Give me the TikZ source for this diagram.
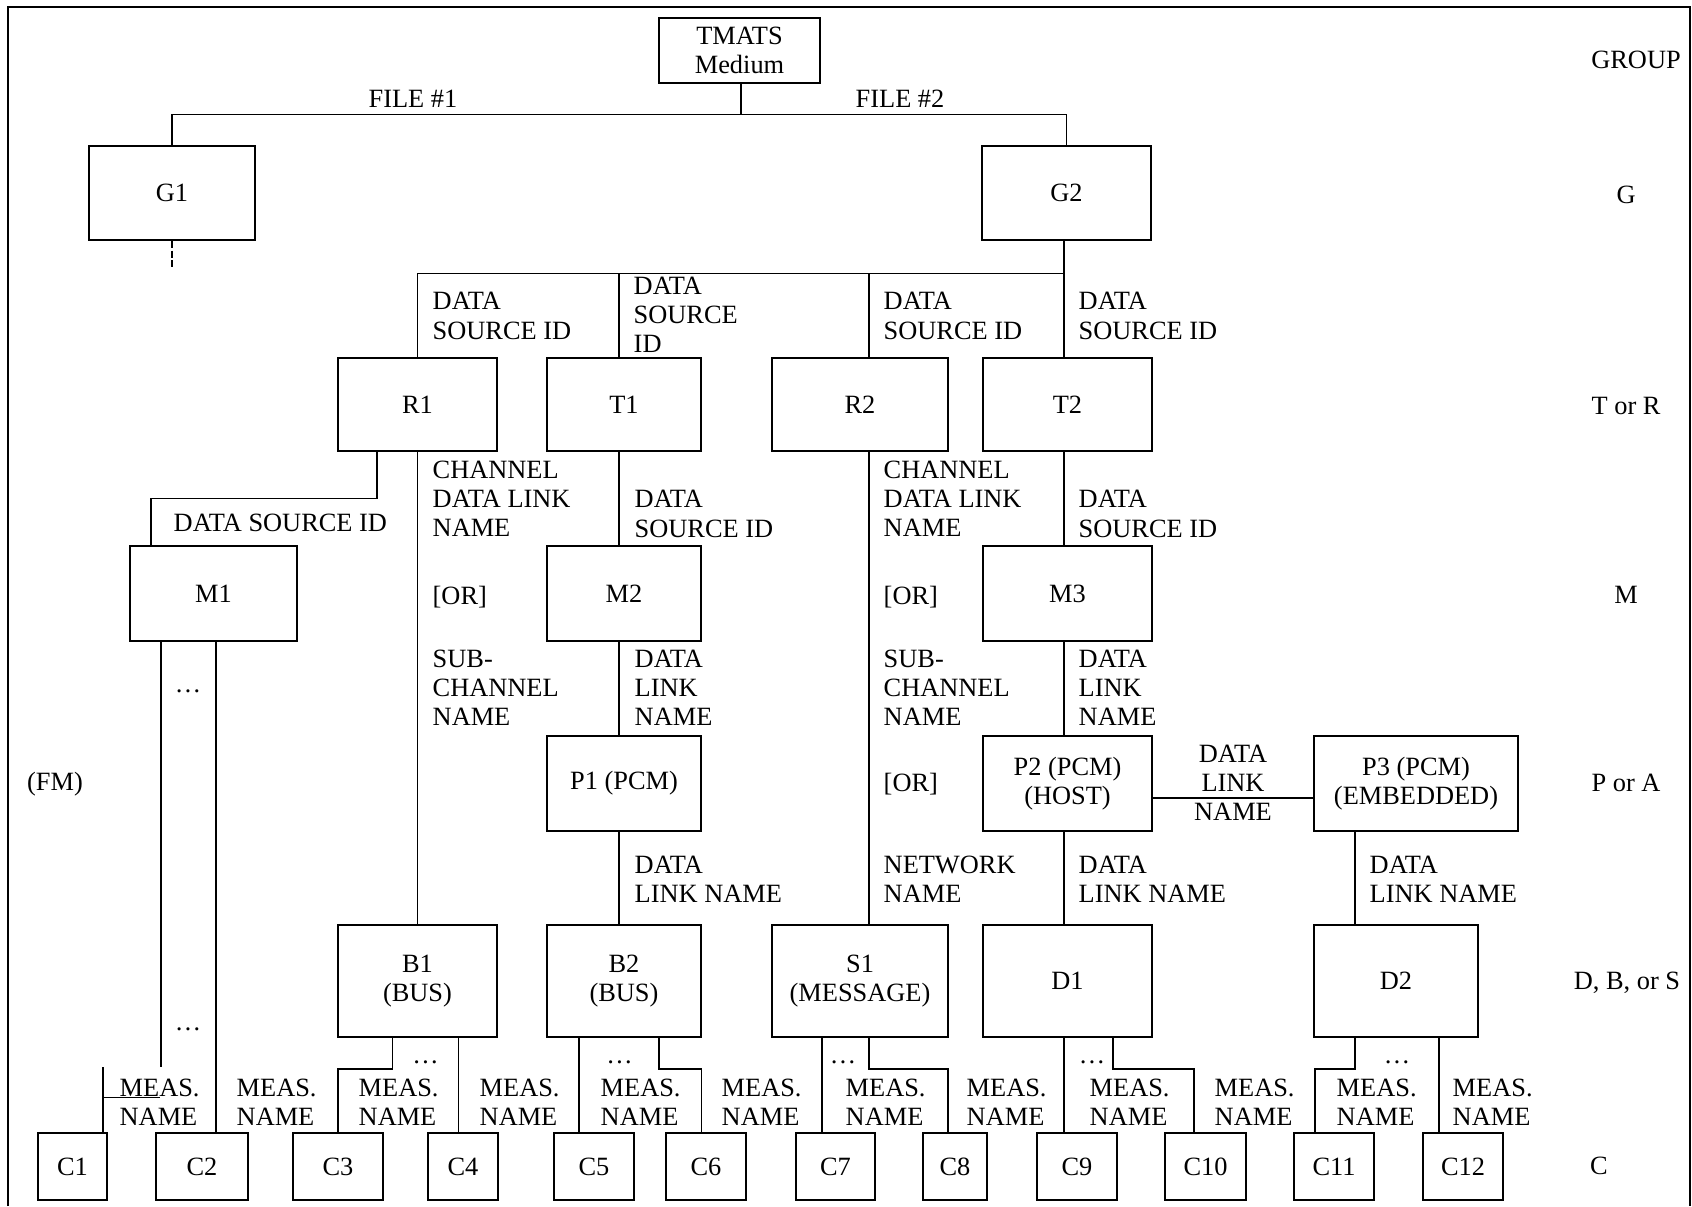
\documentclass[tikz,border=0pt]{standalone}
\usepackage{fontspec}
\setmainfont{Liberation Serif}
\usetikzlibrary{calc, positioning}

\tikzset{
    bx/.style 2 args={draw, inner sep=0pt, align=center, minimum width=#1, minimum height=#2},
    lbl/.style={anchor=west, align=left, inner sep=0pt},
    lvl/.style={inner sep=0pt},
    dotsn/.style={anchor=base, inner sep=0pt},
}

\begin{document}
\begin{tikzpicture}[x=0.01cm, y=-0.01cm,
        every node/.style={font=\fontsize{7.5}{8.3}\selectfont}]
        \useasboundingbox (0,0) rectangle (1692,1206);
        % 枠の描画
        \draw (8,1206) -- (8,7) -- (1690,7) -- (1690,1206);
        \draw[line width=0.7pt] (8,7) -- (1690,7);

        % 箱の描画
        \node[bx={1.61cm}{0.65cm}] (tmats) at (739.5,50.5) {TMATS\\Medium};
        \node[bx={1.66cm}{0.94cm}] (G1) at (172,193) {G1};
        \node[bx={1.69cm}{0.94cm}] (G2) at (1066.5,193) {G2};

        \node[bx={1.59cm}{0.93cm}] (R1) at (417.5,404.5) {R1};
        \node[bx={1.54cm}{0.93cm}] (T1) at (624,404.5) {T1};
        \node[bx={1.76cm}{0.93cm}] (R2) at (860,404.5) {R2};
        \node[bx={1.69cm}{0.93cm}] (T2) at (1067.5,404.5) {T2};

        \node[bx={1.67cm}{0.95cm}] (M1) at (213.5,593.5) {M1};
        \node[bx={1.54cm}{0.95cm}] (M2) at (624,593.5) {M2};
        \node[bx={1.69cm}{0.95cm}] (M3) at (1067.5,593.5) {M3};

        \node[bx={1.54cm}{0.95cm}] (P1) at (624,783.5) {P1 (PCM)};
        \node[bx={1.69cm}{0.95cm}] (P2) at (1067.5,783.5) {P2 (PCM)\\(HOST)};
        \node[bx={2.04cm}{0.95cm}] (P3) at (1416,783.5) {P3 (PCM)\\(EMBEDDED)};

        \node[bx={1.59cm}{1.12cm}] (B1) at (417.5,981) {B1\\(BUS)};
        \node[bx={1.54cm}{1.12cm}] (B2) at (624,981) {B2\\(BUS)};
        \node[bx={1.76cm}{1.12cm}] (S1) at (860,981) {S1\\(MESSAGE)};
        \node[bx={1.69cm}{1.12cm}] (D1) at (1067.5,981) {D1};
        \node[bx={1.64cm}{1.12cm}] (D2) at (1396,981) {D2};

        \foreach \n/\cx/\w in {1/72.5/0.69, 2/202/0.92, 3/338/0.90, 4/463/0.70, 5/594/0.80, 6/706/0.80, 7/835.5/0.79, 8/955/0.64, 9/1077/0.80, 10/1205.5/0.81, 11/1334/0.80, 12/1463/0.80} {
            \node[bx={\w cm}{0.67cm}] (C\n) at (\cx,1166.5) {C\n};
        }

        % 右側の段名
        \node[lvl] (lGroup) at (1636,60) {GROUP};
        \node[lvl] (lG) at (1626,195) {G};
        \node[lvl] (lTR) at (1626,406) {T or R};
        \node[lvl] (lM) at (1626,595) {M};
        \node[lvl] (lPA) at (1626,783) {P or A};
        \node[lvl] (lDBS) at (1627,983) {D, B, or S};
        \node[lvl] (lC) at (1599,1166) {C};
        \node[lvl] (lFM) at (55,784) {(FM)};

        % 線のラベル
        \node[lvl] (file1) at (413,99) {FILE \#1};
        \node[lvl] (file2) at (900,99) {FILE \#2};
        \node[lbl] (dsR1) at (432,316) {DATA\\SOURCE ID};
        \node[lbl] (dsT1) at (633,315) {DATA\\SOURCE\\ID};
        \node[lbl] (dsR2) at (883,316) {DATA\\SOURCE ID};
        \node[lbl] (dsT2) at (1078,316) {DATA\\SOURCE ID};
        \node[lbl] (dsM1) at (173,523) {DATA SOURCE ID};
        \node[lbl] (chR1) at (432,499) {CHANNEL\\DATA LINK\\NAME};
        \node[lbl] (orR1) at (432,597) {[OR]};
        \node[lbl] (subR1) at (432,688) {SUB-\\CHANNEL\\NAME};
        \node[lbl] (dsM2) at (634,514) {DATA\\SOURCE ID};
        \node[lbl] (dlP1) at (634,688) {DATA\\LINK\\NAME};
        \node[lbl] (dlB2) at (634,879) {DATA\\LINK NAME};
        \node[lbl] (chR2) at (883,499) {CHANNEL\\DATA LINK\\NAME};
        \node[lbl] (orR2) at (883,597) {[OR]};
        \node[lbl] (subR2) at (883,688) {SUB-\\CHANNEL\\NAME};
        \node[lbl] (orR2b) at (883,784) {[OR]};
        \node[lbl] (netS1) at (883,879) {NETWORK\\NAME};
        \node[lbl] (dsM3) at (1078,514) {DATA\\SOURCE ID};
        \node[lbl] (dlP2) at (1078,688) {DATA\\LINK\\NAME};
        \node[lbl] (dlD1) at (1078,879) {DATA\\LINK NAME};
        \node[lbl] (dlD2) at (1369,879) {DATA\\LINK NAME};
        \node[lvl, align=center] (dlP3) at (1233,783) {DATA\\LINK\\NAME};
        \foreach \mx [count=\i] in {119,236,358,479,600,721,845,966,1089,1214,1336,1452} {
            \node[lbl] (meas\i) at (\mx,1102) {MEAS.\\NAME};
        }
        \foreach \dx/\dy [count=\i] in {188/692, 188/1030, 425.5/1063, 619.5/1063, 843/1063, 1092/1063, 1397/1063} {
            \node[dotsn] (dots\i) at (\dx,\dy) {…};
        }

        % 線の描画
        \coordinate (fb) at ($(tmats.south)+(1.5,31)$);
        \draw (tmats.south -| fb) -- (fb);
        \draw (G1.north) |- (fb) -| (G2.north);
        \coordinate (G1more) at ($(G1.south)+(0,28)$);
        \draw[dash pattern=on 2pt off 0.8pt] (G1.south) -- (G1more);

        \coordinate (kT2) at ($(G2.south)+(-2.5,0)$);
        \coordinate (dsb) at ($(kT2)+(0,33)$);
        \coordinate (kT1) at ($(T1.north)+(-5,0)$);
        \coordinate (kR2) at ($(R2.north)+(9,0)$);
        \draw (kT2) -- (kT2 |- T2.north);
        \draw (dsb) -| (R1.north);
        \draw (kT1 |- dsb) -- (kT1 |- T1.north);
        \draw (kR2 |- dsb) -- (kR2 |- R2.north);

        % R1
        \draw (R1.south) -- (B1.north);
        \coordinate (kM1) at ($(M1.north)+(-62.5,-47)$);
        \draw ($(R1.south)+(-40.5,0)$) |- (kM1) -- (kM1 |- M1.north);
        % T1
        \draw (kT1 |- T1.south) -- (kT1 |- M2.north);
        \draw (kT1 |- M2.south) -- (kT1 |- P1.north);
        \draw (kT1 |- P1.south) -- (kT1 |- B2.north);
        % R2
        \draw (kR2 |- R2.south) -- (kR2 |- S1.north);
        % T2
        \draw (kT2 |- T2.south) -- (kT2 |- M3.north);
        \draw (kT2 |- M3.south) -- (kT2 |- P2.north);
        \draw (kT2 |- P2.south) -- (kT2 |- D1.north);
        % P2 - P3 - D2
        \draw ($(P2.east)+(0,14.5)$) -- ($(P3.west)+(0,14.5)$);
        \coordinate (kP3) at ($(P3.south)+(-61,0)$);
        \draw (kP3) -- (kP3 |- D2.north);

        % C への線
        \coordinate (mb) at (0,1069);
        \coordinate (kM1a) at ($(M1.south)+(-52.5,0)$);
        \coordinate (kM1b) at ($(M1.south)+(2.5,0)$);
        \coordinate (kC1) at ($(C1.north)+(30.5,-65)$);
        \coordinate (kC1r) at (kC1 -| kM1a);
        \draw (kM1a) -- (kM1a |- kC1);
        \draw (kC1) -- (kC1 |- C1.north);
        \draw ($(kC1)+(0,30)$) -- ($(kC1r)+(-1,30)$);
        \draw (kM1b) -- (kM1b |- C2.north);

        \coordinate (kB1a) at ($(B1.south)+(-25,0)$);
        \coordinate (kB1b) at ($(B1.south)+(41,0)$);
        \draw (kB1a) -- (kB1a |- mb) -| (C3.north);
        \draw (kB1b) -- (kB1b |- C4.north);

        \coordinate (kB2a) at ($(B2.south)+(-45,0)$);
        \coordinate (kB2b) at ($(B2.south)+(35,0)$);
        \draw (kB2a) -- (kB2a |- C5.north);
        \draw (kB2b) -- (kB2b |- mb) -| ($(C6.north)+(-4.5,0)$);

        \coordinate (kS1a) at ($(S1.south)+(-38,0)$);
        \draw (kS1a) -- (kS1a |- C7.north);
        \draw (kR2 |- S1.south) -- (kR2 |- mb) -| ($(C8.north)+(-7,0)$);

        \coordinate (kD1b) at ($(D1.south)+(45.5,0)$);
        \draw (kT2 |- D1.south) -- (kT2 |- C9.north);
        \draw (kD1b) -- (kD1b |- mb) -| ($(C10.north)+(-11.5,0)$);

        \coordinate (kD2a) at ($(D2.south)+(-41,0)$);
        \coordinate (kD2b) at ($(D2.south)+(43,0)$);
        \draw (kD2a) -- (kD2a |- mb) -| ($(C11.north)+(-19,0)$);
        \draw (kD2b) -- (kD2b |- C12.north);
\end{tikzpicture}
\end{document}
